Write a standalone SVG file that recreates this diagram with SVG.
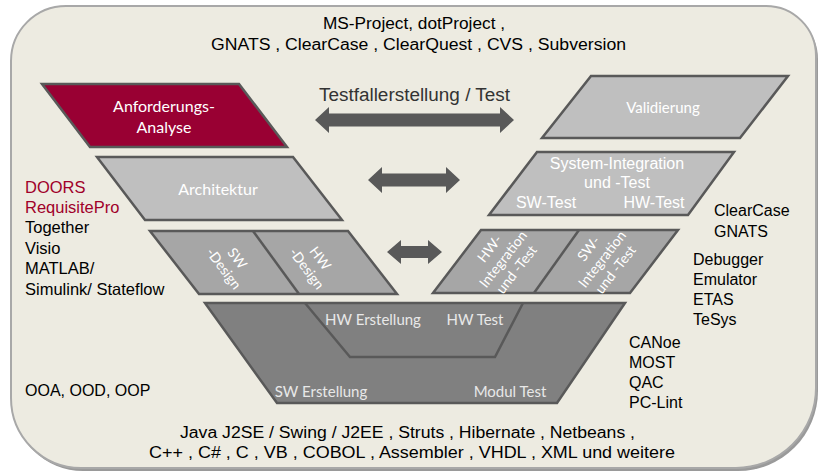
<svg xmlns="http://www.w3.org/2000/svg" width="818" height="472" viewBox="0 0 818 472">
<style>
.bg{fill:#EDEBE1;stroke:#A8A8A8;stroke-width:2}
.sh{fill:#9A9A9A}
.box{stroke:#595959;stroke-width:2.5;stroke-linejoin:miter}
.red{fill:#990033}
.l1{fill:#BFBFBF}
.l2{fill:#A6A6A6}
.l3{fill:#808080}
.arr{fill:#595959}
.t{font-family:"Liberation Sans",Arial,sans-serif;font-size:16px;fill:#000}
.lt{font-size:16.5px}
.w{font-family:"Liberation Sans",Arial,sans-serif;font-size:16px;fill:#FFFFFF}
.c{font-family:Lato,"Open Sans",sans-serif;fill:#FFFFFF}
.g{fill:#E8E8E8}
.r{fill:#A0002A}
</style>
<g id="background">
<path class="sh" d="M68,9 H768 A50,50 0 0 1 818,59 V391 A80,80 0 0 1 738,471 H83 A70,70 0 0 1 13,401 V64 A55,55 0 0 1 68,9 Z"/>
<path class="bg" d="M66,6 H766 A50,50 0 0 1 816,56 V388 A80,80 0 0 1 736,468 H81 A70,70 0 0 1 11,398 V61 A55,55 0 0 1 66,6 Z"/>
</g>
<g id="top-tools">
<text class="t" x="414" y="29" text-anchor="middle" textLength="182" lengthAdjust="spacingAndGlyphs">MS-Project, dotProject ,</text>
<text class="t" x="418.5" y="50" text-anchor="middle" textLength="415" lengthAdjust="spacingAndGlyphs">GNATS , ClearCase , ClearQuest , CVS , Subversion</text>
</g>
<g id="test-label">
<text class="t" x="414.5" y="101" text-anchor="middle" style="font-size:18px;fill:#333" textLength="191" lengthAdjust="spacingAndGlyphs">Testfallerstellung / Test</text>
</g>
<g id="anforderung">
<polygon class="box red" points="42,84 239,84 287,147 90,147"/>
<text class="c" x="164" y="112" text-anchor="middle" font-size="16">Anforderungs-</text>
<text class="c" x="164" y="133" text-anchor="middle" font-size="16">Analyse</text>
</g>
<g id="validierung">
<polygon class="box l1" points="591,76 788,76 740,138 542,138"/>
<text class="c" x="663" y="113" text-anchor="middle" font-size="15">Validierung</text>
</g>
<g id="architektur">
<polygon class="box l1" points="97,157 293,157 342,220 145,220"/>
<text class="c" x="218" y="195" text-anchor="middle" font-size="16">Architektur</text>
</g>
<g id="system-integration">
<polygon class="box l1" points="537,152 734,152 688,215 489,215"/>
<text class="w" x="617" y="169" text-anchor="middle">System-Integration</text>
<text class="w" x="617" y="188" text-anchor="middle">und -Test</text>
<text class="w" x="546" y="208" text-anchor="middle">SW-Test</text>
<text class="w" x="654" y="208" text-anchor="middle">HW-Test</text>
</g>
<g id="design">
<polygon class="box l2" points="150,231 348,231 397,294 199,294"/>
<line class="box" x1="253" y1="231" x2="299" y2="294"/>
<g transform="translate(231,263) rotate(53)">
<text class="c" x="0" y="-3" text-anchor="middle" font-size="14">SW</text>
<text class="c" x="0" y="14" text-anchor="middle" font-size="14">-Design</text>
</g>
<g transform="translate(314,263) rotate(53)">
<text class="c" x="0" y="-3" text-anchor="middle" font-size="14">HW</text>
<text class="c" x="0" y="14" text-anchor="middle" font-size="14">-Design</text>
</g>
</g>
<g id="integration">
<polygon class="box l2" points="481,230 678,230 630,293 433,293"/>
<line class="box" x1="579" y1="230" x2="534" y2="293"/>
<g transform="translate(503,259) rotate(-52)">
<text class="c" x="0" y="-12" text-anchor="middle" font-size="14">HW-</text>
<text class="c" x="0" y="5" text-anchor="middle" font-size="14">Integration</text>
<text class="c" x="0" y="22" text-anchor="middle" font-size="14">und -Test</text>
</g>
<g transform="translate(602,259) rotate(-52)">
<text class="c" x="0" y="-12" text-anchor="middle" font-size="14">SW-</text>
<text class="c" x="0" y="5" text-anchor="middle" font-size="14">Integration</text>
<text class="c" x="0" y="22" text-anchor="middle" font-size="14">und -Test</text>
</g>
</g>
<g id="erstellung">
<polygon class="box l3" points="205,303 625,303 557,403 277,403"/>
<polyline class="box" fill="none" points="305,303 350,357 495,357 523,303"/>
<text class="c g" x="373" y="325" text-anchor="middle" font-size="15">HW Erstellung</text>
<text class="c g" x="475" y="325" text-anchor="middle" font-size="15">HW Test</text>
<text class="c g" x="321" y="397" text-anchor="middle" font-size="15">SW Erstellung</text>
<text class="c g" x="510" y="397" text-anchor="middle" font-size="15">Modul Test</text>
</g>
<g id="connectors">
<polygon class="arr" points="315,120 329,107 329,113.5 500,113.5 500,107 514,120 500,133 500,126.5 329,126.5 329,133"/>
<polygon class="arr" points="368,180 382,167 382,173.5 446,173.5 446,167 460,180 446,193 446,186.5 382,186.5 382,193"/>
<polygon class="arr" points="387,252 401,240 401,246 428,246 428,240 442,252 428,264 428,258 401,258 401,264"/>
</g>
<g id="left-tools">
<text class="t lt r" x="25" y="193">DOORS</text>
<text class="t lt r" x="25" y="213">RequisitePro</text>
<text class="t lt" x="25" y="233">Together</text>
<text class="t lt" x="25" y="254">Visio</text>
<text class="t lt" x="25" y="274">MATLAB/</text>
<text class="t lt" x="25" y="295">Simulink/ Stateflow</text>
<text class="t" x="25" y="396">OOA, OOD, OOP</text>
</g>
<g id="right-tools">
<text class="t" x="714" y="216">ClearCase</text>
<text class="t" x="714" y="237">GNATS</text>
<text class="t" x="693" y="265">Debugger</text>
<text class="t" x="693" y="285">Emulator</text>
<text class="t" x="693" y="305">ETAS</text>
<text class="t" x="693" y="325">TeSys</text>
<text class="t" x="629" y="348">CANoe</text>
<text class="t" x="629" y="368">MOST</text>
<text class="t" x="629" y="388">QAC</text>
<text class="t" x="629" y="408">PC-Lint</text>
</g>
<g id="bottom-tools">
<text class="t" x="407.5" y="438" text-anchor="middle" textLength="455" lengthAdjust="spacingAndGlyphs">Java  J2SE / Swing / J2EE , Struts , Hibernate , Netbeans ,</text>
<text class="t" x="412" y="458" text-anchor="middle" textLength="526" lengthAdjust="spacingAndGlyphs">C++ , C# , C , VB , COBOL , Assembler , VHDL , XML  und weitere</text>
</g>
</svg>
